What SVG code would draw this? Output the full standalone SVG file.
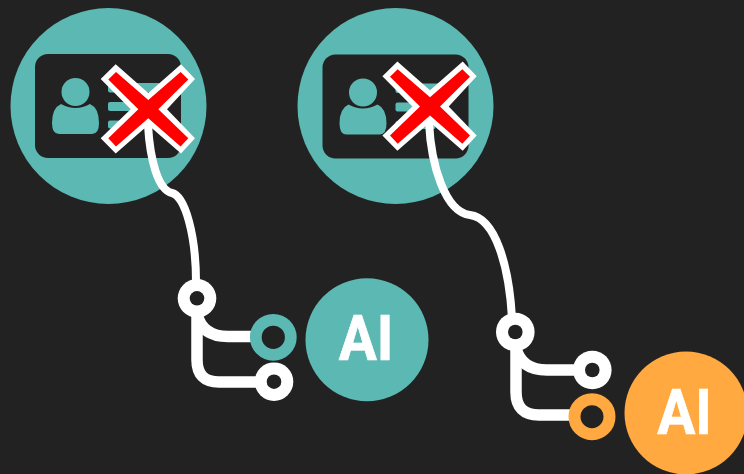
<svg xmlns="http://www.w3.org/2000/svg" width="744" height="474" viewBox="0 0 744 474">
<style>
.teal{fill:#5bb8b2}
.bg{fill:#222222}
.wire{fill:none;stroke:#fff;stroke-width:11.5}
.lead{fill:none;stroke:#fff;stroke-width:8}
.ai{font-family:"Roboto","Liberation Sans",sans-serif;font-weight:700;font-size:63px;fill:#fff;stroke:#fff;stroke-width:.7;text-anchor:middle}
</style>
<defs>
<g id="card">
<rect x="35" y="54" width="146" height="104" rx="13" class="bg"/>
<circle cx="75.500" cy="92" r="14" class="teal"/>
<path d="M61 104 Q75.500 112 90 104 Q99 108 99 123 Q99 134 92 134 L59 134 Q52 134 52 123 Q52 108 61 104Z" class="teal"/>
<rect x="108" y="83" width="52" height="9.500" rx="2" class="teal"/>
<rect x="108" y="102" width="52" height="9" rx="2" class="teal"/>
<rect x="108" y="120.500" width="40" height="8" rx="2" class="teal"/>
</g>
<g id="x">
<polygon fill="#fff" points="-47.600,-30.300 -32.600,-45 0,-16.300 32.700,-45 46.700,-30.300 18.700,0 46.700,29 32.700,44.200 0,15.700 -32.600,44.200 -47.600,29 -17.600,0"/>
<polygon fill="#f00" points="-40,-29.800 -32.300,-37.300 0,-9.300 32.300,-37.300 40,-29.800 10,0 40,29 32.300,37.300 0,9 -32.300,37.300 -40,29 -10,0"/>
</g>
<g id="wn"><circle r="19.300" fill="#fff"/><circle r="7.300" class="bg"/></g>
</defs>
<rect width="744" height="474" class="bg"/>
<g id="id-card-1">
<circle cx="108.500" cy="106" r="98" class="teal"/>
<use href="#card"/>
</g>
<g id="id-card-2">
<circle cx="395.500" cy="106" r="98" class="teal"/>
<use href="#card" x="287.500" y="0.500"/>
</g>
<g id="connectors">
<path class="lead" d="M148 125C150 160 158 190 172 193C185 196 196 235 196 282"/>
<path class="wire" d="M197 310V360Q197 382 219 382H262"/>
<path class="wire" d="M197 314Q202 336.500 228 336.500H256"/>
<path class="lead" d="M429 122C431 165 445 212 470 215C495 218 509 265 512 318"/>
<path class="wire" d="M516 344V392Q516 415 539 415H575"/>
<path class="wire" d="M516 348Q521 370 547 370H580"/>
</g>
<g id="cross-1"><use href="#x" x="148.300" y="109.300"/></g>
<g id="cross-2"><use href="#x" x="430" y="106.500"/></g>
<g id="node-a1"><use href="#wn" x="197" y="298.300"/></g>
<g id="node-a2"><circle cx="273.300" cy="337.300" r="17.500" fill="none" stroke="#5bb8b2" stroke-width="11.800"/></g>
<g id="node-a3"><use href="#wn" x="274" y="381.700"/></g>
<g id="ai-1"><circle cx="367" cy="339.700" r="61.500" class="teal"/><text class="ai" transform="translate(366,360) scale(.9,1)">AI</text></g>
<g id="node-b1"><use href="#wn" x="515.300" y="332"/></g>
<g id="node-b2"><use href="#wn" x="592.300" y="370"/></g>
<g id="node-b3"><circle cx="592" cy="416.700" r="17.500" fill="none" stroke="#ffa940" stroke-width="12"/></g>
<g id="ai-2"><circle cx="686" cy="413" r="61.500" fill="#ffa940"/><text class="ai" transform="translate(684.500,433.500) scale(.9,1)">AI</text></g>
</svg>
